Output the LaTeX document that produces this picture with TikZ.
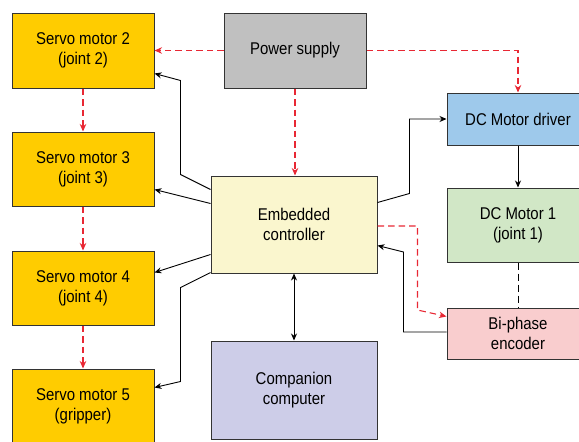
\documentclass[tikz,border=0pt]{standalone}
\usepackage{fontspec}
\setmainfont{Liberation Sans}[FakeStretch=0.88]
\usetikzlibrary{arrows.meta}

\begin{document}
\begin{tikzpicture}[x=1pt, y=-1pt, font=\fontsize{17}{20}\selectfont]

	% Styles
	\tikzset{
		box/.style={
			rectangle, draw=black!80, line width=1pt,
			minimum width=142pt, minimum height=74pt,
			align=center, inner sep=2pt,
			fill=#1,
		},
		arrow/.style={
			line width=0.9pt, -{Stealth[length=7pt,width=6pt]},
		},
		twoway/.style={
			line width=0.9pt, {Stealth[length=7pt,width=6pt]}-{Stealth[length=7pt,width=6pt]},
		},
		supplyline/.style={
			line width=1.1pt, draw=myred, dash pattern=on 6.5pt off 4pt,
			-{Stealth[length=7.5pt,width=6.5pt]},
		}
	}

	% Colors
	\definecolor{myred}{RGB}{232,40,52}
	\definecolor{servobg}{RGB}{255,204,0}
	\definecolor{psubg}{RGB}{192,192,192}
	\definecolor{driverbg}{RGB}{158,201,235}
	\definecolor{ctrlbg}{RGB}{250,246,206}
	\definecolor{motorbg}{RGB}{209,231,198}
	\definecolor{encoderbg}{RGB}{249,205,206}
	\definecolor{compbg}{RGB}{205,205,232}

	\useasboundingbox (0,0) rectangle (579,442);

	% Power supply (top)
	\node[box=psubg, minimum height=75pt] (psu) at (295,50.5) {Power supply};

	% Servo motors stacked on the left
	\node[box=servobg, minimum height=75pt] (servo2) at (83,50.5) {Servo motor 2\\(joint 2)};
	\node[box=servobg] (servo3) at (83,169) {Servo motor 3\\(joint 3)};
	\node[box=servobg] (servo4) at (83,288) {Servo motor 4\\(joint 4)};
	\node[box=servobg] (servo5) at (83,406) {Servo motor 5\\(gripper)};

	% Controller and companion computer (middle)
	\node[box=ctrlbg, minimum width=166pt, minimum height=97pt] (ctrl) at (294,224.5) {Embedded\\controller};
	\node[box=compbg, minimum width=166pt, minimum height=98pt] (comp) at (294,390) {Companion\\computer};

	% DC motor chain (right)
	\node[box=driverbg, minimum height=52pt] (driver) at (518,119) {DC Motor driver};
	\node[box=motorbg] (dcmotor) at (518,225) {DC Motor 1\\(joint 1)};
	\node[box=encoderbg, minimum height=51pt] (encoder) at (518,333.5) {Bi-phase\\encoder};

	% Power lines (red dashed)
	\draw[supplyline] (psu.west) -- (servo2.east);
	\draw[supplyline] (psu.east) -| (driver.north);
	\draw[supplyline] (psu.south) -- (psu.south |- ctrl.north);
	\draw[supplyline] (servo2.south) -- (servo3.north);
	\draw[supplyline] (servo3.south) -- (servo4.north);
	\draw[supplyline] (servo4.south) -- (servo5.north);
	\draw[supplyline] ([yshift=-1.5pt]ctrl.east) -- ++(40,0) -- ++(0,84) -- ([yshift=-9pt]encoder.north west);

	% Control signals from the controller
	\draw[arrow] ([yshift=-14pt]ctrl.north west) -- ++(-30,-15) -- ++(0,-94) -- ([yshift=15pt]servo2.south east);
	\draw[arrow] ([yshift=-28pt]ctrl.north west) -- ([yshift=17pt]servo3.south east);
	\draw[arrow] ([yshift=19pt]ctrl.south west) -- ([yshift=-22pt]servo4.north east);
	\draw[arrow] ([yshift=1pt]ctrl.south west) -- ++(-30,15) -- ++(0,94) -- ([yshift=-19pt]servo5.north east);
	\draw[arrow] ([yshift=-27pt]ctrl.north east) -- ++(32,-9) |- (driver.west);

	% Motor, encoder feedback and companion link
	\draw[arrow] (driver.south) -- (dcmotor.north);
	\draw[line width=0.9pt, dash pattern=on 7pt off 4pt] (dcmotor.south) -- (encoder.north);
	\draw[arrow] ([yshift=1.5pt]encoder.west) -- ++(-43,0) -- ++(0,-80) -- ([yshift=28pt]ctrl.south east);
	\draw[twoway] (ctrl.south) -- (comp.north);

\end{tikzpicture}
\end{document}
